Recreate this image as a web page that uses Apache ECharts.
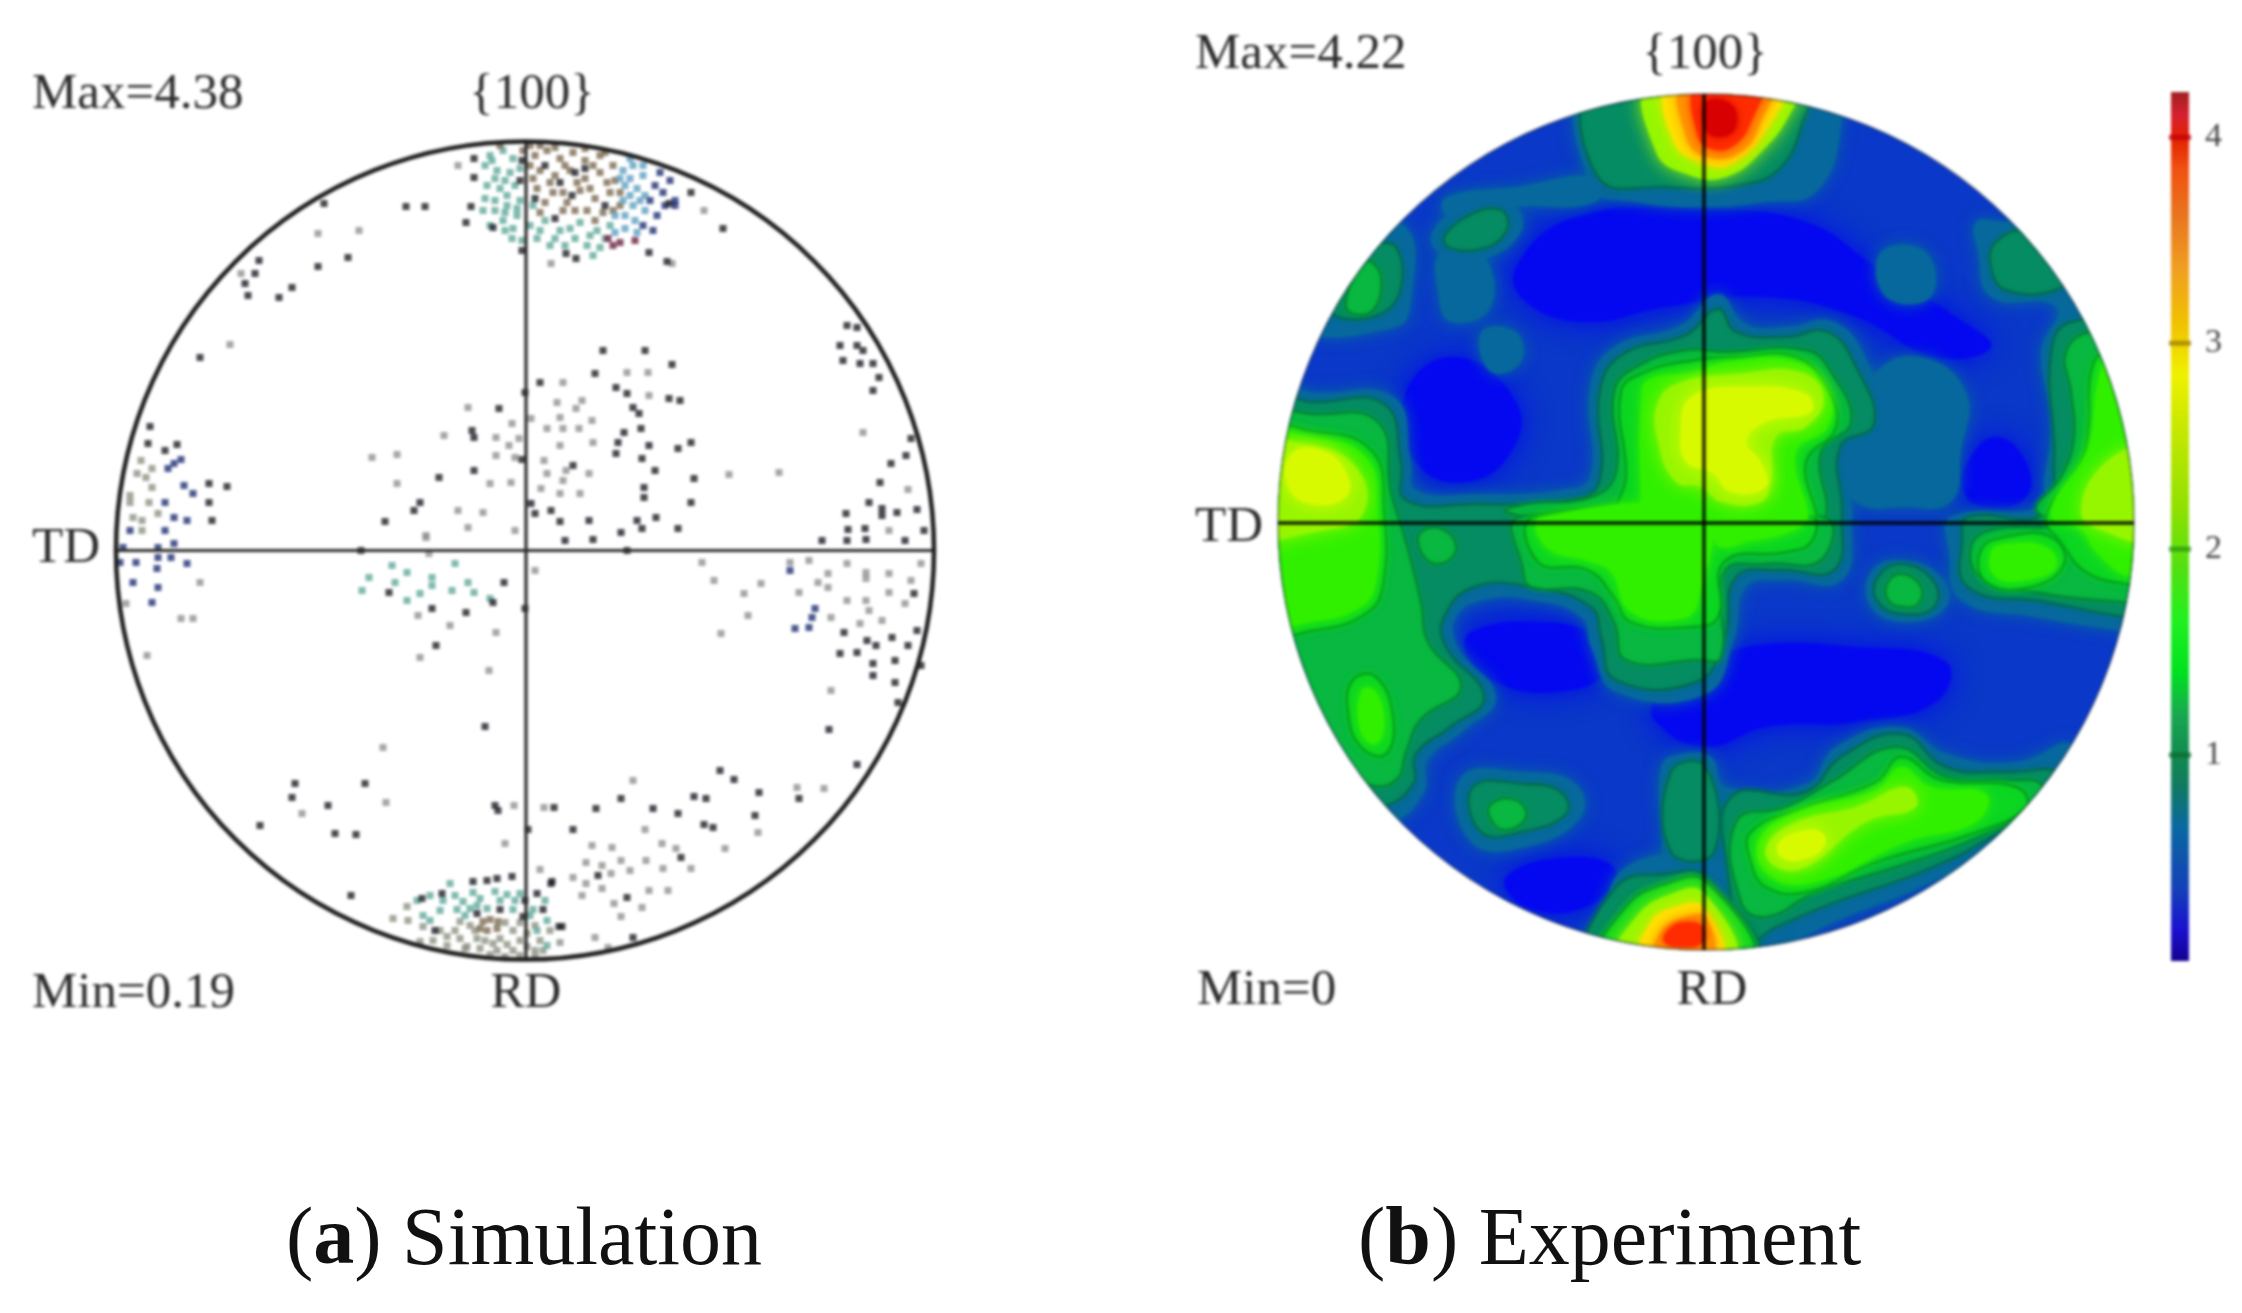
<!DOCTYPE html>
<html>
<head>
<meta charset="utf-8">
<script src="https://cdn.jsdelivr.net/npm/echarts@6/dist/echarts.min.js"></script>
<style>
html,body{margin:0;padding:0;background:#fff;width:2242px;height:1313px;overflow:hidden}
#chart{position:absolute;left:0;top:0;width:2242px;height:1130px;filter:blur(1.6px)}
#caption{position:absolute;left:0;top:1130px;width:2242px;height:183px}
</style>
</head>
<body>
<div id="chart"></div>
<div id="caption"></div>
<script>
// ---------- (a) Simulation: pole positions (x, y about the centre) ----------
const simDark = [[-51,392],[-51,373],[-201,347],[-119,344],[-100,344],[-54,344],[-59,328],[-32,323],[41,297],[51,292],[124,298],[142,289],[166,358],[198,322],[144,347],[-3,300],[-207,284],[-177,293],[-266,290],[-270,277],[-280,267],[-277,255],[-246,253],[-233,263],[-325,193],
[322,225],[332,223],[315,205],[332,205],[338,200],[318,190],[335,187],[348,187],[354,173],[348,160],
[78,200],[120,200],[147,186],[70,177],[15,168],[91,163],[0,158],[102,157],[144,152],[155,150],[-26,142],[108,143],[114,137],[116,122],[99,118],[-53,120],[-51,113],[93,108],[124,105],[166,108],[153,102],[91,97],[117,92],[-3,91],[130,80],[-51,80],[48,85],[-86,73],[169,72],[119,63],[119,53],[166,48],[6,47],[26,40],[-105,48],[-111,40],[-140,29],[35,29],[64,30],[112,30],[131,33],[153,22],[117,22],[96,18],[40,10],[68,11],[-164,0],[102,0],[10,37],
[386,112],[381,95],[366,87],[355,68],[344,48],[357,42],[357,35],[392,41],[372,38],[321,37],[323,21],[340,22],[297,10],[322,10],[399,20],[380,10],[341,11],
[-375,124],[-377,107],[-360,100],[-348,106],[-316,67],[-298,64],[-316,48],[-313,30],
[-136,-42],[-93,-58],[-59,-62],[-21,-32],[-32,-52],[0,-58],[-89,-95],
[-40,-176],[-230,-233],[-233,-247],[-160,-233],[-197,-255],[-265,-275],[-190,-283],[-169,-284],[-174,-345],
[-30,-255],[-27,-260],[29,-257],[71,-258],[96,-248],[128,-258],[153,-263],[169,-246],[181,-248],[195,-220],[209,-229],[234,-242],[230,-265],[274,-248],[188,-277],[179,-274],[3,-279],[48,-279],[332,-214],[304,-179],
[156,-307],[73,-325],[102,-347],[26,-333],[34,-376],[108,-387],
[319,-82],[342,-90],[351,-95],[367,-87],[383,-95],[315,-103],[332,-102],[370,-110],[348,-113],[348,-125],[370,-132],[396,-115],[392,-80],[389,-43],[373,-152],
[20,385],[50,378],[-5,370],[10,352],[35,368],[60,382],[47,355],[30,332],[80,345],[-3,390],
[-52,-331],[-38,-330],[-28,-328],[-13,-326],[-103,-348],[-83,-343],[27,-331],[18,-359],[-2,-366],[-25,-359],[-48,-363],[37,-376],[-90,-380],[0,-350],[12,-343]];
const simGrey = [[-67,385],[-207,317],[-166,320],[179,340],[26,287],[147,287],[-295,206],[-284,277],
[-57,143],[38,168],[102,178],[123,178],[32,148],[57,150],[124,155],[51,142],[35,133],[67,130],[6,132],[-13,127],[22,122],[38,122],[54,122],[-81,115],[-29,113],[-6,112],[35,105],[68,108],[-16,105],[-153,93],[-128,96],[-29,95],[-10,93],[19,90],[41,80],[64,77],[22,77],[204,76],[254,78],[-128,67],[-35,67],[-14,68],[38,70],[16,62],[35,57],[55,57],[-67,40],[-42,38],[-57,23],[-10,20],[-99,13],[338,118],[383,61],[364,20],
[-325,-32],[-399,-53],[-344,-68],[-332,-68],[-378,-105],
[-107,-65],[-75,-75],[-29,-82],[-105,-107],[-36,-120],[10,-20],[-99,15],[-96,-3],
[-142,-197],[-139,-252],[-223,-263],[-11,-255],[19,-257],[272,-237],[299,-238],[108,-230],[233,-282],[120,-279],
[67,-295],[87,-297],[137,-293],[151,-298],[200,-298],[61,-312],[77,-315],[96,-310],[121,-310],[138,-318],[105,-320],[166,-318],[48,-327],[86,-323],[61,-333],[77,-338],[124,-340],[143,-340],[57,-345],[89,-353],[117,-357],[96,-366],[15,-319],[35,-392],[70,-387],[83,-397],[-20,-293],
[177,-12],[189,-30],[236,-33],[219,-43],[223,-65],[196,-83],[265,-12],[284,-10],[303,-23],[322,-13],[341,-22],[364,-23],[293,-32],[303,-37],[341,-28],[386,-30],[274,-42],[322,-50],[341,-50],[364,-42],[380,-53],[396,-13],[335,-73],[357,-70],[344,-60],[306,-67],[306,-140]];
const simOlive = [[-384,90],[-388,77],[-373,63],[-395,48],[-376,48],[-392,33],[-383,30],[-367,37],[-383,20],[-395,55],[-373,82],[-379,73],
[-118,-356],[-132,-368],[-117,-370],[-102,-376],[-65,-371],[-55,-375],[-12,-380],[-78,-386],[-65,-388],[-48,-388],[-105,-391],[-92,-390],[-32,-393],[-18,-394],[2,-383],[15,-390],[2,-396],[18,-400],[-45,-398],[-58,-396],[-78,-395],[-28,-400],[-12,-400],
[-85,-380],[-70,-380],[-50,-380],[-20,-372],[-5,-372],[10,-375],[25,-380],[-60,-398],[-40,-390],[-25,-388],[-5,-390],[10,-400],[-35,-404],[-20,-406],[-5,-405],[10,-406]];
const simTeal = [[-35,395],[-22,400],[-12,392],[-28,380],[-15,378],[-38,365],[-25,362],[-10,365],[-30,350],[-18,345],[-5,350],[-40,352],[-22,330],[-8,335],[-30,340],[-12,322],[-3,310],[8,345],[5,325],[20,330],[35,320],[25,305],[40,305],[50,312],[62,305],[72,320],[55,328],[85,325],[12,312],[75,303],[68,295],
[-40,385],[-30,372],[-5,382],[-42,340],[-20,320],[-35,325],[-20,370],[-33,390],[-18,355],[-8,342],[-20,338],[-13,312],[30,312],[45,322],[65,315],[80,312],[15,320],
[-133,-15],[-156,-27],[-130,-32],[-163,-40],[-118,-50],[-118,-22],[-93,-27],[-93,-35],[-105,-43],[-70,-13],[-57,-32],[-73,-40],[-51,-42],[-35,-48],
[-75,-333],[-82,-350],[-62,-351],[-45,-348],[-30,-341],[-18,-344],[-5,-343],[-68,-359],[-55,-358],[-38,-358],[-102,-365],[-12,-359],[8,-359],[-108,-350],
[-95,-370],[-85,-360],[-60,-365],[-48,-355],[-25,-350],[5,-365],[22,-370],[20,-350],[-95,-345],[-70,-345],[-52,-342],[-10,-350],[12,-380],[22,-395]];
const simBrown = [[10,395],[22,400],[35,392],[48,398],[60,390],[75,395],[88,385],[15,380],[30,375],[45,380],[60,372],[75,378],[90,370],[12,362],[28,358],[42,348],[55,360],[70,352],[85,358],[95,345],[38,340],[62,340],[78,338],[20,348],
[5,385],[25,368],[38,358],[52,368],[65,362],[82,368],[95,358],[40,385],[68,385],[8,372],[50,340],[88,340],[70,330],[15,338],[-2,400],[15,405],[30,403],[60,402],[80,398],[5,405],[-25,405],
[-42,-371],[-35,-369],[-28,-378],[-38,-380],[-27,-371],[-45,-378]];
const simBlue = [[98,380],[108,385],[118,375],[100,365],[112,362],[98,350],[108,345],[120,355],[100,335],[110,330],[90,318],[120,340],[105,372],[95,372],[115,350],[105,355],[90,335],[100,322],[112,318],[105,392],[118,385]];
const simNavy = [[130,365],[138,358],[125,350],[140,345],[132,335],[118,325],[128,320],[145,370],[150,350],[135,378],[150,345],
[-351,87],[-357,82],[-344,91],[-341,65],[-332,57],[-360,48],[-351,33],[-338,30],[-360,20],[-351,7],[-367,3],[-395,20],[-402,3],[-405,-12],[-389,-12],[-367,-7],[-354,-7],[-368,-18],[-338,-13],[-392,-32],[-367,-37],[-373,-52],
[290,-58],[287,-67],[284,-77],[270,-78],[265,-20]];
const simRed = [[83,312],[88,305],[95,308],[110,310]];

// ---------- (b) Experiment: contour outlines, one list per level ----------
const lowContours = [
 [[-190,255],[-130,305],[0,312],[100,300],[170,255],[250,205],[285,175],[230,165],[150,205],[60,225],[-40,215],[-120,200],[-180,220]],
 [[-300,130],[-250,165],[-190,120],[-195,70],[-240,40],[-290,60]],
 [[262,60],[290,85],[320,60],[320,25],[280,15],[258,30]],
 [[-50,-200],[0,-225],[60,-205],[150,-200],[230,-180],[240,-140],[150,-125],[40,-125],[-10,-150],[-50,-175]],
 [[-235,-110],[-170,-100],[-110,-115],[-100,-150],[-150,-170],[-210,-160],[-240,-130]],
 [[-200,-355],[-130,-335],[-90,-350],[-120,-385],[-180,-385]]
];
const contours075 = [
 [[-440,140],[-395,130],[-312,125],[-295,60],[-290,32],[-230,28],[-145,32],[-116,45],[-116,135],[-92,175],[-25,197],[12,228],[40,198],[80,195],[128,200],[162,160],[180,98],[144,75],[146,5],[136,-58],[75,-58],[40,-65],[28,-118],[0,-172],[-90,-170],[-115,-125],[-125,-95],[-175,-78],[-222,-78],[-250,-95],[-248,-125],[-210,-175],[-244,-210],[-278,-238],[-282,-270],[-315,-300],[-400,-300],[-480,0]],
 [[-115,440],[-115,335],[-70,320],[0,315],[60,320],[110,330],[135,395],[125,440]],
 [[170,150],[215,165],[260,130],[255,70],[245,20],[200,15],[150,20],[135,60],[150,100]],
 [[270,300],[300,300],[480,300],[480,-115],[411,-108],[330,-95],[255,-78],[243,-30],[245,5],[335,15],[338,40],[345,100],[335,170],[350,215],[285,225],[272,270]],
 [[165,-50],[195,-38],[235,-55],[240,-85],[200,-100],[165,-85]],
 [[-45,-245],[-25,-232],[5,-235],[20,-265],[100,-262],[130,-225],[194,-205],[241,-232],[310,-240],[365,-222],[350,-275],[290,-325],[215,-365],[140,-395],[70,-425],[-10,-440],[-60,-380],[-45,-335]],
 [[-245,-255],[-180,-250],[-130,-262],[-125,-295],[-180,-325],[-235,-320]],
 [[-130,-440],[-105,-390],[-80,-345],[-20,-335],[40,-360],[65,-440]],
 [[-400,195],[-360,285],[-300,295],[-295,220],[-310,195]],
 [[-275,280],[-240,320],[-195,320],[-185,290],[-230,262]],
 [[-265,270],[-225,270],[-215,215],[-255,200],[-268,230]],
 [[-225,190],[-190,190],[-185,160],[-215,150]],
 [[-260,325],[-190,335],[-110,345],[-110,320],[-190,315],[-260,308]],
 [[175,270],[220,270],[225,225],[180,225]]
];
const contours100 = [
 [[-440,125],[-395,120],[-322,118],[-305,60],[-300,22],[-230,18],[-136,22],[-107,40],[-106,132],[-83,168],[-20,187],[12,213],[30,190],[80,185],[122,190],[150,155],[168,98],[134,75],[136,8],[128,-48],[75,-48],[30,-55],[18,-118],[-10,-160],[-90,-158],[-105,-115],[-115,-85],[-175,-65],[-232,-65],[-262,-95],[-260,-125],[-222,-175],[-256,-205],[-290,-232],[-293,-262],[-325,-285],[-400,-290],[-480,0]],
 [[-108,440],[-108,345],[-40,335],[40,338],[75,355],[95,395],[100,440]],
 [[290,280],[320,290],[360,250],[350,232],[300,232],[285,255]],
 [[345,168],[365,200],[480,200],[480,-100],[420,-95],[340,-80],[262,-65],[256,-15],[262,5],[338,8],[348,60]],
 [[172,-55],[197,-42],[228,-60],[228,-85],[197,-92],[172,-80]],
 [[25,-275],[100,-270],[135,-235],[195,-212],[240,-245],[300,-250],[350,-250],[335,-275],[285,-315],[215,-350],[130,-380],[70,-405],[40,-420],[22,-350]],
 [[-35,-250],[0,-245],[8,-330],[-35,-330]],
 [[-233,-265],[-180,-262],[-145,-270],[-140,-292],[-185,-310],[-225,-310]],
 [[-115,-440],[-90,-365],[-40,-352],[0,-355],[50,-440]],
 [[-350,265],[-310,275],[-315,215],[-375,210]],
 [[-262,280],[-240,305],[-205,312],[-200,290],[-230,272]]
];
const contours125 = [
 [[-470,110],[-395,108],[-328,100],[-315,30],[-300,-20],[-285,-80],[-278,-120],[-245,-165],[-285,-197],[-300,-230],[-310,-258],[-340,-262],[-480,-200]],
 [[-70,155],[-20,172],[20,170],[100,172],[125,150],[145,100],[115,70],[120,5],[100,-5],[-100,-5],[-200,10],[-180,18],[-115,25],[-90,50],[-92,130]],
 [[-186,5],[-183,-48],[-175,-65],[-116,-70],[-92,-100],[-80,-138],[-9,-138],[15,-135],[18,-50],[60,-42],[115,-38],[118,5]],
 [[360,170],[385,190],[480,190],[480,-85],[415,-80],[340,-72],[275,-55],[265,-25],[285,-8],[345,-5],[360,0],[330,12],[355,45],[368,85],[365,130]],
 [[182,-60],[197,-52],[215,-65],[212,-82],[197,-85],[182,-78]],
 [[30,-300],[80,-285],[125,-260],[190,-225],[240,-255],[300,-258],[335,-262],[325,-285],[265,-318],[190,-345],[110,-370],[60,-395],[35,-380]],
 [[-215,-282],[-190,-278],[-180,-295],[-200,-308],[-215,-298]],
 [[-360,215],[-340,260],[-325,245],[-335,210]],
 [[-285,-10],[-262,-8],[-250,-28],[-268,-42],[-285,-30]]
];
const contours160 = [
 [[-470,100],[-400,92],[-335,72],[-322,10],[-323,-62],[-338,-90],[-390,-108],[-470,-110]],
 [[-353,-158],[-330,-155],[-313,-195],[-320,-232],[-345,-225],[-358,-190]],
 [[-60,150],[-10,162],[30,165],[90,165],[120,135],[130,95],[100,60],[103,-5],[-90,-5],[-80,45],[-85,130]],
 [[-172,5],[-168,-40],[-118,-48],[-92,-75],[-75,-100],[-15,-105],[12,-95],[18,-40],[80,-30],[105,-20],[105,5]],
 [[385,150],[400,170],[480,170],[480,-70],[420,-62],[380,-50],[355,-20],[340,5],[375,60],[383,100]],
 [[275,-28],[300,-15],[345,-15],[358,-42],[325,-65],[280,-60]],
 [[45,-310],[100,-285],[170,-260],[195,-235],[235,-258],[310,-265],[320,-285],[265,-312],[170,-340],[100,-370],[60,-365],[45,-340]],
 [[-105,-440],[-80,-385],[-40,-362],[0,-360],[45,-440]]
];
const contours200 = [
 [[-470,88],[-395,85],[-340,65],[-328,10],[-330,-60],[-345,-85],[-395,-100],[-470,-105]],
 [[-345,-170],[-332,-168],[-322,-198],[-330,-222],[-345,-210]],
 [[-58,142],[-10,150],[20,160],[90,160],[122,130],[122,95],[90,70],[95,-5],[-60,-5],[-65,30],[-65,120]],
 [[-165,5],[-160,-25],[-115,-40],[-95,-50],[-75,-90],[-25,-97],[-8,-80],[-5,5]],
 [[10,5],[15,-25],[60,-10],[90,-5]],
 [[392,140],[405,165],[480,160],[480,-55],[425,-55],[390,-30],[375,-8],[345,8],[382,75]],
 [[285,-30],[300,-22],[340,-25],[350,-45],[320,-58],[290,-55]],
 [[52,-320],[90,-290],[170,-268],[195,-245],[225,-265],[280,-272],[270,-300],[200,-320],[110,-360],[65,-355]]
];
const contours240 = [
 [[-470,78],[-400,78],[-350,55],[-342,10],[-380,-8],[-470,-10]],
 [[-48,120],[-25,140],[30,148],[95,150],[118,125],[100,95],[70,85],[65,40],[55,20],[15,20],[-5,35],[-30,40],[-48,80]],
 [[400,60],[440,70],[440,-15],[400,-10],[375,10]],
 [[60,-325],[90,-300],[150,-285],[200,-265],[210,-285],[160,-300],[100,-345],[70,-345]],
 [[-55,440],[-50,370],[-20,348],[20,345],[60,375],[85,410],[95,440]],
 [[-90,-440],[-70,-395],[-35,-372],[-3,-370],[28,-440]]
];
const contours270 = [
 [[-415,68],[-385,72],[-360,50],[-360,25],[-395,18],[-418,35]],
 [[-25,90],[-15,125],[40,135],[100,128],[105,110],[60,100],[40,80],[55,60],[60,35],[25,30],[5,50],[-20,60]],
 [[72,-322],[92,-310],[115,-310],[118,-325],[95,-338],[75,-335]]
];
const contours300 = [
 [[-35,440],[-32,380],[0,358],[25,358],[60,392],[75,440]],
 [[-65,-440],[-55,-400],[-30,-385],[-3,-385],[15,-440]]
];
const contours340 = [
 [[-22,440],[-20,385],[0,365],[35,370],[55,400],[65,440]],
 [[-52,-440],[-45,-410],[-20,-395],[0,-395],[5,-440]]
];
const contours390 = [
 [[-8,440],[-8,385],[10,372],[30,378],[45,400],[55,440]],
 [[-42,-420],[-35,-405],[-18,-400],[-3,-405],[-3,-420],[-20,-425]]
];
const contours410 = [
 [[0,420],[0,392],[15,385],[30,395],[25,418]]
];
const contourSets = [lowContours,contours075,contours100,contours125,contours160,contours200,contours240,contours270,contours300,contours340,contours390,contours410];
const contourValues = [0.2,0.75,1,1.25,1.6,2,2.4,2.7,3,3.4,3.9,4.1];
const contourColors = ['#0408f0','#06689c','#058c62','#08b840','#0cd622','#30f000','#96f600','#d8fa00','#ffe000','#ff9400','#ff2c00','#d80000'];
const contourEdges = [null,null,'rgba(0,70,50,.45)','rgba(0,90,40,.5)','rgba(0,110,20,.5)',null,null,null,null,null,null,null];
const contourSoft = [30,16,4,4,6,12,18,18,12,12,10,8];
const baseValue = 0.5, baseColor = '#0a38c8';

// colour bar
const barMax = 4.22;
const barStops = [[0,'#140090'],[0.15,'#1a10d0'],[0.35,'#1440b8'],[0.65,'#0a68a0'],[0.85,'#107a60'],[1.0,'#128a50'],[1.2,'#18a850'],[1.4,'#00e020'],[1.65,'#20f020'],[1.9,'#50e010'],[2.2,'#90e000'],[2.6,'#c8e800'],[2.85,'#f0f000'],[3.1,'#f0c000'],[3.35,'#f0a020'],[3.6,'#e87820'],[3.85,'#f05010'],[4.0,'#e02000'],[4.1,'#d82030'],[4.22,'#a02020']];
const barTicks = [1,2,3,4];
const barTickColors = ['#0a6a30','#2a9a10','#a08000','#c00010'];

const simRadius = 409, expRadius = 428;
const serif = '"Liberation Serif","Times New Roman",serif';

function ringSeries(gridIndex, radius, stroke, width, z){
  return {type:'custom',xAxisIndex:gridIndex,yAxisIndex:gridIndex,z,silent:true,clip:false,data:[[0,0]],
    renderItem(p,api){
      const c=api.coord([0,0]), r=api.size([radius,0])[0];
      return {type:'circle',shape:{cx:c[0],cy:c[1],r},style:{fill:'none',stroke,lineWidth:width}};
    }};
}
function crossSeries(gridIndex, radius, dx, dy, color, width){
  const mk=(d)=>({type:'line',xAxisIndex:gridIndex,yAxisIndex:gridIndex,z:6,silent:true,symbol:'none',data:d,lineStyle:{color,width},animation:false});
  return [mk([[-radius,dy],[radius,dy]]),mk([[dx,-radius],[dx,radius]])];
}
function scatter(data,color){
  return {type:'scatter',xAxisIndex:0,yAxisIndex:0,z:3,silent:true,symbol:'rect',symbolSize:7,data,itemStyle:{color}};
}

// build one flat drawing list for the contour series: disc first, then low to high
const flat=[]; contourSets.forEach((set,i)=>set.forEach(shape=>flat.push({shape,i})));

const contourSeries={type:'custom',xAxisIndex:1,yAxisIndex:1,z:2,silent:true,clip:false,
  data:[[baseValue,-1]].concat(flat.map((f,k)=>[contourValues[f.i],k])),
  renderItem(p,api){
    const k=api.value(1), c=api.coord([0,0]), r=api.size([expRadius,0])[0];
    if(k<0) return {type:'circle',shape:{cx:c[0],cy:c[1],r},style:{fill:baseColor}};
    const f=flat[k], pts=f.shape.map(q=>api.coord(q));
    return {type:'polygon',shape:{points:pts,smooth:0.45},
      clipPath:{type:'circle',shape:{cx:c[0],cy:c[1],r}},
      style:{fill:contourColors[f.i],stroke:contourEdges[f.i]||'none',lineWidth:contourEdges[f.i]?2.4:0,
        shadowBlur:contourSoft[f.i],shadowColor:contourColors[f.i]}};
  }};

const hiddenAxis=(gridIndex,r)=>({type:'value',gridIndex,min:-r,max:r,show:false});
function label(text,x,y,align){
  return {type:'text',x,y,silent:true,style:{text,font:'51px '+serif,fill:'#2b2b2b',align:align||'left',verticalAlign:'middle'}};
}

const chart=echarts.init(document.getElementById('chart'));
chart.setOption({
  animation:false,backgroundColor:'#fff',
  grid:[
    {left:116,top:141.5,width:818,height:818},
    {left:1278,top:94,width:856,height:856},
    {left:2171,top:92,width:18,height:869}
  ],
  xAxis:[hiddenAxis(0,simRadius),hiddenAxis(1,expRadius),{type:'category',gridIndex:2,data:['v'],show:false}],
  yAxis:[hiddenAxis(0,simRadius),hiddenAxis(1,expRadius),{type:'value',gridIndex:2,min:0,max:barMax,interval:1,
    axisLine:{show:false},axisTick:{show:false},splitLine:{show:false},
    position:'right',axisLabel:{show:true,showMaxLabel:false,showMinLabel:false,margin:16,fontFamily:serif,fontSize:34,color:'#444'}}],
  series:[
    scatter(simGrey,'#8e918e'),scatter(simOlive,'#8c9182'),scatter(simTeal,'#5fa89a'),scatter(simBrown,'#7a6a50'),
    scatter(simBlue,'#5c9fc0'),scatter(simNavy,'#1f2f74'),scatter(simRed,'#6c2040'),scatter(simDark,'#1c1c24'),
    ...crossSeries(0,simRadius,1,0,'#2a2a2a',3.2),
    ringSeries(0,simRadius,'#1e1e1e',4.5,7),
    contourSeries,
    ...crossSeries(1,expRadius,-2,-1,'rgba(0,0,0,.88)',3.4),
    ringSeries(1,expRadius,'rgba(0,20,40,.4)',2,5),
    {type:'bar',xAxisIndex:2,yAxisIndex:2,silent:true,barWidth:'100%',data:[barMax],
      itemStyle:{color:new echarts.graphic.LinearGradient(0,1,0,0,barStops.map(s=>({offset:s[0]/barMax,color:s[1]})))}},
    {type:'scatter',xAxisIndex:2,yAxisIndex:2,z:4,silent:true,symbol:'rect',symbolSize:[22,5],
      data:barTicks.map((t,i)=>({value:['v',t],itemStyle:{color:barTickColors[i]}}))}
  ],
  graphic:[
    label('Max=4.38',32,95),label('{100}',532,95,'center'),label('TD',32,549),label('Min=0.19',32,994),label('RD',526,994,'center'),
    label('Max=4.22',1195,55),label('{100}',1705,55,'center'),label('TD',1195,528),label('Min=0',1197,991),label('RD',1712,991,'center')
  ]
});

const captionRich={r:{font:'82px '+serif,fill:'#111'},b:{font:'bold 82px '+serif,fill:'#111'}};
const cap=echarts.init(document.getElementById('caption'));
cap.setOption({
  animation:false,
  graphic:[
    {type:'text',x:286,y:112,silent:true,style:{text:'{r|(}{b|a}{r|) Simulation}',rich:captionRich,verticalAlign:'middle'}},
    {type:'text',x:1358,y:112,silent:true,style:{text:'{r|(}{b|b}{r|) Experiment}',rich:captionRich,verticalAlign:'middle'}}
  ]
});
</script>
</body>
</html>
